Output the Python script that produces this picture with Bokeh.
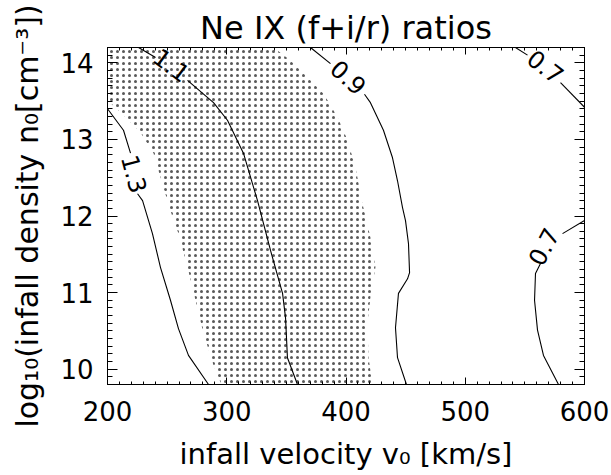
from bokeh.plotting import figure
from bokeh.models import Range1d, LinearAxis, SingleIntervalTicker, CustomJSTickFormatter
from bokeh.core.properties import value
from bokeh.embed import file_html
from bokeh.resources import INLINE

FONT = "DejaVu Sans"

# ---- data ----
title_text = "Ne IX (f+i/r) ratios"
x_label = "infall velocity v\u2080 [km/s]"
y_label = "log\u2081\u2080(infall density n\u2080[cm\u207b\u00b3])"
x_min, x_max = 200, 600
y_min, y_max = 9.8, 14.2

# contour 1.3 (two pieces around its label)
c13_a_x = [200.0, 213.4, 219.3]
c13_a_y = [13.40, 13.12, 12.82]
c13_b_x = [225.2, 229.4, 237.7, 244.4, 252.8, 259.5, 267.9, 284.7]
c13_b_y = [12.29, 12.20, 11.77, 11.33, 10.90, 10.53, 10.18, 9.80]

# contour 1.1
c11_a_x = [226.0, 240.3]
c11_a_y = [14.20, 14.07]
c11_b_x = [267.1, 288.9, 300.6, 314.0, 325.8, 336.7, 346.8, 349.3, 350.9, 359.3]
c11_b_y = [13.77, 13.48, 13.25, 12.82, 12.20, 11.55, 10.99, 10.67, 10.15, 9.80]

# contour 0.9
c09_a_x = [370.2, 387.0]
c09_a_y = [14.20, 13.99]
c09_b_x = [415.5, 420.5, 431.4, 439.0, 443.2, 447.4, 449.9, 452.4, 453.3, 451.6, 444.0, 441.5, 443.2, 450.7]
c09_b_y = [13.59, 13.48, 13.12, 12.76, 12.46, 12.11, 11.94, 11.64, 11.26, 11.18, 10.99, 10.54, 10.15, 9.80]

# contour 0.7 (upper right corner)
c07u_a_x = [542.1, 552.2]
c07u_a_y = [14.20, 14.10]
c07u_b_x = [579.9, 600.0]
c07u_b_y = [13.74, 13.42]

# contour 0.7 (lower right)
c07l_a_x = [600.0, 581.6]
c07l_a_y = [11.94, 11.77]
c07l_b_x = [563.1, 558.9, 558.1, 560.6, 565.6, 578.2]
c07l_b_y = [11.38, 11.25, 10.90, 10.51, 10.18, 9.80]

# contour labels
lab_text = ["1.3", "1.1", "0.9", "0.7", "0.7"]
lab_x = [222.6, 253.7, 402.1, 567.3, 565.6]
lab_y = [12.55, 13.97, 13.81, 13.95, 11.60]
lab_angle = [-75, -37, -42, -38, 62]

# dotted (allowed) region boundary
shade_x = [200.0, 200.0, 215.1, 227.7, 238.6, 247.0, 252.8, 259.5, 267.1, 273.8, 280.5, 288.9, 295.6,
           422.2, 418.9, 418.0, 420.5, 424.7, 420.5, 413.8, 408.0, 401.3, 392.9, 381.1, 367.7, 353.5, 339.2]
shade_y = [14.20, 13.51, 13.29, 13.09, 12.82, 12.37, 12.07, 11.77, 11.33, 10.90, 10.47, 10.05, 9.80,
           9.80, 10.15, 10.60, 10.94, 11.33, 11.72, 12.16, 12.63, 12.99, 13.29, 13.60, 13.81, 14.03, 14.20]

# ---- figure ----
p = figure(width=611, height=475, output_backend="svg", toolbar_location=None,
           x_range=Range1d(x_min, x_max), y_range=Range1d(y_min, y_max),
           x_axis_location=None, y_axis_location=None,
           min_border_left=107, min_border_right=27, min_border_top=47, min_border_bottom=91)
p.background_fill_color = "white"
p.border_fill_color = "white"
p.outline_line_color = "black"
p.xgrid.visible = False
p.ygrid.visible = False

p.title.text = title_text
p.title.align = "center"
p.title.text_font = FONT
p.title.text_font_size = "32px"
p.title.text_font_style = "normal"
p.title.text_color = "black"
p.title.standoff = 2

def make_axis(interval, tick_in, label=None, show_labels=True, label_size="28px", label_standoff=8,
              tick_standoff=14):
    ax = LinearAxis(ticker=SingleIntervalTicker(interval=interval, num_minor_ticks=10))
    ax.major_tick_in = tick_in
    ax.major_tick_out = 0
    ax.minor_tick_in = tick_in // 2
    ax.minor_tick_out = 0
    ax.axis_line_color = "black"
    ax.major_tick_line_color = "black"
    ax.minor_tick_line_color = "black"
    ax.major_label_text_font = FONT
    ax.major_label_text_color = "black"
    ax.major_label_text_font_size = "26px"
    if show_labels:
        ax.major_label_standoff = tick_standoff
    else:
        ax.formatter = CustomJSTickFormatter(code="return ''")
        ax.major_label_standoff = 0
    if label:
        ax.axis_label = label
        ax.axis_label_text_font = FONT
        ax.axis_label_text_font_size = label_size
        ax.axis_label_text_font_style = "normal"
        ax.axis_label_text_color = "black"
        ax.axis_label_standoff = label_standoff
    return ax

p.add_layout(make_axis(100, 7, x_label, label_size="29px", label_standoff=13, tick_standoff=16), "below")
p.add_layout(make_axis(100, 7, show_labels=False), "above")
p.add_layout(make_axis(1, 10, y_label, label_size="30px", label_standoff=12), "left")
p.add_layout(make_axis(1, 10, show_labels=False), "right")

# dotted region
p.patch(shade_x, shade_y, fill_color=None, line_color=None,
        hatch_pattern=".", hatch_color="black", hatch_scale=6, hatch_weight=0.5, hatch_alpha=0.65)

# contour lines
xs = [c13_a_x, c13_b_x, c11_a_x, c11_b_x, c09_a_x, c09_b_x, c07u_a_x, c07u_b_x, c07l_a_x, c07l_b_x]
ys = [c13_a_y, c13_b_y, c11_a_y, c11_b_y, c09_a_y, c09_b_y, c07u_a_y, c07u_b_y, c07l_a_y, c07l_b_y]
p.multi_line(xs, ys, line_color="black", line_width=1.1)

p.text(x=lab_x, y=lab_y, text=lab_text, angle=lab_angle, angle_units="deg",
       text_font=value(FONT), text_font_size=value("24px"), text_color="black",
       text_align="center", text_baseline="middle")

open("out.html", "w").write(file_html(p, INLINE))
